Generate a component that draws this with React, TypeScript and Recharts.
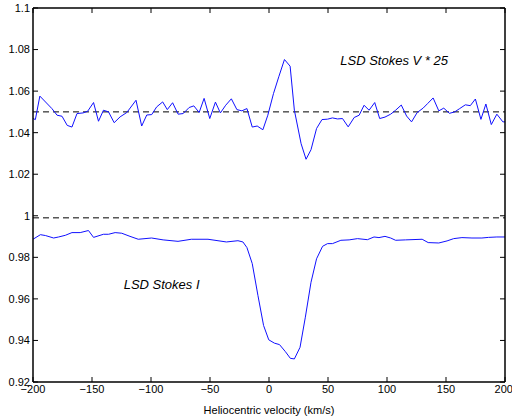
import React from 'react'
import { LineChart, Line, XAxis, YAxis, ReferenceLine, ReferenceDot } from 'recharts'

// Stokes V * 25 (offset to 1.05)
const vVel = [
  -200, -198, -194.2, -184, -179.6, -175.4, -171, -167, -162.7, -157.6, -153.7, -148.7, -144.5, -140.3,
  -136, -131.2, -126.2, -120.5, -112.7, -107.9, -103.6, -99.4, -95.2, -90.1, -86.2, -81.7, -77, -72.7,
  -67.7, -63.7, -59.2, -55, -50.2, -45.4, -41.2, -36.7, -31.9, -27.2, -23, -18.7, -14.2, -10, -5.2,
  -1, 3.8, 8.3, 13.1, 17.9, 21.5, 27.2, 31.4, 35.6, 40.3, 44.9, 49.6, 53.8, 58.1, 62.3, 67.1, 72.2,
  76.4, 80.6, 84.8, 89.6, 93.8, 98.3, 103.1, 107.3, 112.1, 116.6, 120.8, 125.6, 130.6, 134.6, 139.1,
  143.9, 148.1, 152.9, 157.4, 161.6, 166.4, 170.6, 174.9, 179.6, 183.8, 188.4, 193.1, 198.2, 200,
]
const vVal = [
  1.0468, 1.0463, 1.0576, 1.0516, 1.0484, 1.0479, 1.0435, 1.0427, 1.0492, 1.0495, 1.0503, 1.0545, 1.0455, 1.0508,
  1.05, 1.0448, 1.0476, 1.0497, 1.0556, 1.0432, 1.0485, 1.0487, 1.0524, 1.0548, 1.0511, 1.0544, 1.0489, 1.0492,
  1.0521, 1.0529, 1.0497, 1.0565, 1.0468, 1.0547, 1.0495, 1.0532, 1.0563, 1.0511, 1.0505, 1.0516, 1.0427, 1.0432, 1.0414,
  1.0484, 1.0588, 1.0669, 1.0752, 1.072, 1.0508, 1.0347, 1.0272, 1.0318, 1.042, 1.0463, 1.0465, 1.0471, 1.0466, 1.0468, 1.0428, 1.0473,
  1.0484, 1.0532, 1.0508, 1.0545, 1.0468, 1.0475, 1.0489, 1.0508, 1.0533, 1.048, 1.0452, 1.0497, 1.0518, 1.0541, 1.0567,
  1.0505, 1.0518, 1.0493, 1.05, 1.0516, 1.0534, 1.053, 1.0562, 1.0464, 1.0538, 1.0439, 1.0489, 1.0452, 1.0452,
]

// Stokes I
const iVel = [
  -200, -193.7, -189.5, -182.5, -178.3, -172.6, -167, -160, -153, -148.7, -140.3, -136, -130.4, -124.8,
  -117.8, -110.8, -99.5, -89.7, -77.1, -65.8, -51.7, -36.1, -26.3, -22.1, -18.7, -14.2, -9.4, -4.6,
  -0.2, 4.6, 8.9, 13.9, 18.1, 21.5, 26.3, 30.8, 35.6, 40.3, 45.4, 49.6, 53.8, 60.9, 67.9, 75, 83.4,
  89, 93.2, 98.3, 103.1, 107.3, 115.8, 129.8, 134.9, 143.9, 150.9, 156.5, 163.5, 172, 180.4, 186.1,
  193.1, 200,
]
const iVal = [
  0.9887, 0.9909, 0.9905, 0.9893, 0.9898, 0.9906, 0.9919, 0.9919, 0.9929, 0.9896, 0.9911, 0.9911, 0.9919, 0.9916,
  0.9901, 0.9887, 0.9893, 0.9884, 0.9877, 0.9887, 0.9887, 0.9874, 0.988, 0.9874, 0.9847, 0.977, 0.9617, 0.9472,
  0.9403, 0.9387, 0.938, 0.9346, 0.9314, 0.9311, 0.9367, 0.9512, 0.968, 0.9793, 0.9853, 0.9866, 0.9866, 0.9882, 0.9884, 0.989, 0.9885,
  0.9898, 0.9895, 0.9901, 0.9893, 0.9882, 0.9884, 0.9887, 0.9871, 0.9869, 0.9879, 0.989, 0.9895, 0.9893, 0.9893, 0.9896,
  0.9898, 0.9898,
]

const xTicks = [-200, -150, -100, -50, 0, 50, 100, 150, 200]
const yTicks = [0.92, 0.94, 0.96, 0.98, 1, 1.02, 1.04, 1.06, 1.08, 1.1]
const xMin = -200
const xMax = 200
const yMin = 0.92
const yMax = 1.1
const vZero = 1.05
const iContinuum = 0.999

const stokesV = vVel.map((x, i) => ({ x, y: vVal[i] }))
const stokesI = iVel.map((x, i) => ({ x, y: iVal[i] }))

const W = 512
const H = 417
const margin = { top: 8, right: 7, bottom: 0, left: 0 }
const yAxisW = 33
const xAxisH = 35
// plot box, used only for the frame decoration drawn over the chart
const box = { l: margin.left + yAxisW, t: margin.top, r: W - margin.right, b: H - xAxisH }
const fx = (v: number) => box.l + ((v - xMin) / (xMax - xMin)) * (box.r - box.l)
const fy = (v: number) => box.b - ((v - yMin) / (yMax - yMin)) * (box.b - box.t)

const font = '"Liberation Sans", Arial, sans-serif'
const tickStyle = { fontSize: 11, fill: '#000', fontFamily: font }
const fmtX = (v: number) => String(v).replace('-', '\u2212')
const fmtY = (v: number) => String(Number(v.toFixed(2)))
const frame = { stroke: '#000', strokeWidth: 1.5 }
const tk = 5

function Frame() {
  return (
    <svg width={W} height={H} style={{ position: 'absolute', left: 0, top: 0, pointerEvents: 'none' }}>
      <g stroke="#000" strokeWidth={1.5} fill="none">
        <line x1={box.l} y1={box.t} x2={box.r} y2={box.t} />
        <line x1={box.r} y1={box.t} x2={box.r} y2={box.b} />
      </g>
      <g stroke="#000" strokeWidth={1}>
        {xTicks.map(t => (
          <g key={'x' + t}>
            <line x1={fx(t)} y1={box.t} x2={fx(t)} y2={box.t + tk} />
            <line x1={fx(t)} y1={box.b} x2={fx(t)} y2={box.b - tk} />
          </g>
        ))}
        {yTicks.map(t => (
          <g key={'y' + t}>
            <line x1={box.l} y1={fy(t)} x2={box.l + tk} y2={fy(t)} />
            <line x1={box.r} y1={fy(t)} x2={box.r - tk} y2={fy(t)} />
          </g>
        ))}
      </g>
    </svg>
  )
}

export default function App() {
  return (
    <div style={{ position: 'absolute', left: 0, top: 0, width: W, height: H, background: '#fff' }}>
      <LineChart width={W} height={H} margin={margin}>
        <XAxis
          dataKey="x"
          type="number"
          domain={[xMin, xMax]}
          ticks={xTicks}
          tickFormatter={fmtX}
          tick={tickStyle}
          tickLine={false}
          tickSize={0}
          tickMargin={3}
          stroke="#000"
          axisLine={frame}
          height={xAxisH}
          allowDataOverflow
          label={{ value: 'Heliocentric velocity (km/s)', position: 'insideBottom', offset: 3, style: { fontSize: 11, fill: '#000', fontFamily: font } }}
        />
        <YAxis
          type="number"
          domain={[yMin, yMax]}
          ticks={yTicks}
          tickFormatter={fmtY}
          tick={tickStyle}
          tickLine={false}
          tickSize={0}
          tickMargin={3}
          stroke="#000"
          axisLine={frame}
          width={yAxisW}
          allowDataOverflow
        />
        <ReferenceLine y={vZero} stroke="#000" strokeDasharray="6 4" />
        <ReferenceLine y={iContinuum} stroke="#000" strokeDasharray="6 4" />
        <Line data={stokesV} dataKey="y" stroke="#1010ff" strokeWidth={1} dot={false} isAnimationActive={false} type="linear" />
        <Line data={stokesI} dataKey="y" stroke="#1010ff" strokeWidth={1} dot={false} isAnimationActive={false} type="linear" />
        <ReferenceDot
          x={106}
          y={1.0746}
          r={0}
          label={{ value: 'LSD Stokes V * 25', position: 'center', style: { fontSize: 13, fontStyle: 'italic', fill: '#000', fontFamily: font } }}
        />
        <ReferenceDot
          x={-91}
          y={0.967}
          r={0}
          label={{ value: 'LSD Stokes I', position: 'center', style: { fontSize: 13, fontStyle: 'italic', fill: '#000', fontFamily: font } }}
        />
      </LineChart>
      <Frame />
    </div>
  )
}
